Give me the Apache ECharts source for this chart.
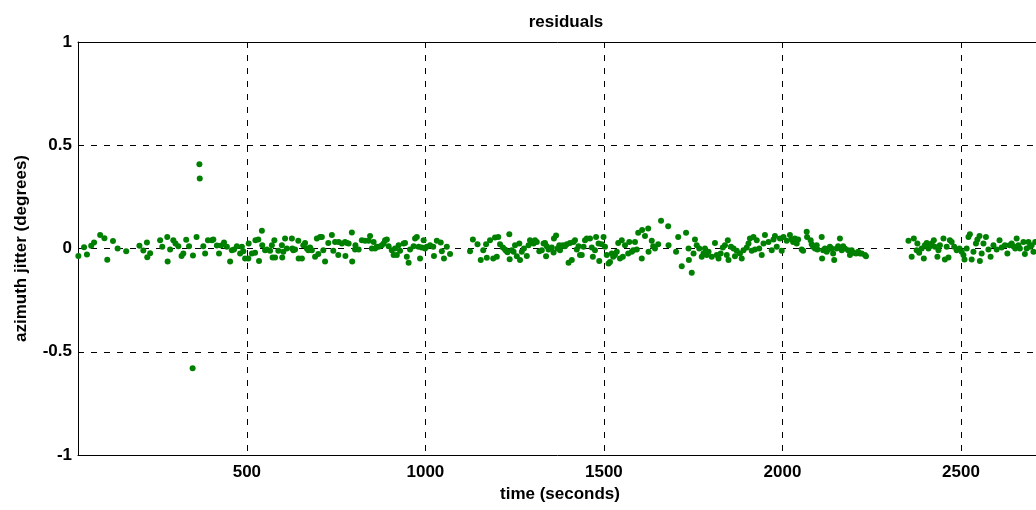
<!DOCTYPE html>
<html>
<head>
<meta charset="utf-8">
<script src="https://cdn.jsdelivr.net/npm/echarts@6/dist/echarts.min.js"></script>
<style>
  html, body { margin: 0; padding: 0; background: #fff; }
  #chart { width: 1036px; height: 510px; }
</style>
</head>
<body>
<div id="chart"></div>
<script>
// Residual azimuth jitter samples: time (s) and jitter (degrees)
const timeSec = [
  28, 44, 52, 64, 72, 89, 101, 109, 125, 138, 162, 199, 210, 220, 221, 229, 257, 263, 277, 278,
  285, 294, 300, 308, 317, 322, 330, 338, 348, 349, 359, 367, 368, 378, 383, 391, 402, 406, 416, 422,
  428, 436, 444, 453, 458, 464, 472, 481,
  486, 490, 495, 504, 505, 514, 523, 524, 532, 534, 542, 543, 551, 556, 565, 570, 572, 577, 579, 588,
  598, 599, 602, 607, 612, 626, 627, 630, 635, 644, 645, 654, 658, 663, 668, 672, 677, 682, 691, 696,
  700, 705, 710, 714, 719, 728, 738, 742, 747, 756, 757, 766, 775, 776, 780, 785, 794, 795, 803, 804,
  813, 822, 831, 841, 845, 850, 855, 859, 864, 869, 878, 883, 887, 892, 897, 906, 911, 915, 920, 925,
  929, 939, 943, 948, 953, 957, 967, 971, 976, 981, 985, 990, 995, 999,
  1004, 1013, 1022, 1024, 1032, 1043, 1046, 1052, 1060, 1069,
  1125, 1133, 1146, 1155, 1162, 1170, 1172, 1181, 1190, 1195, 1200, 1204, 1209, 1217, 1223, 1226, 1230, 1235, 1236, 1242,
  1247, 1251, 1256, 1263, 1265, 1270, 1276, 1284, 1289, 1293, 1298, 1303, 1307, 1312, 1319, 1326, 1331, 1335, 1338, 1340,
  1345, 1354, 1359, 1360, 1366, 1370, 1375, 1377, 1385, 1391, 1396, 1401, 1405, 1410, 1415, 1419, 1424, 1429, 1433, 1438,
  1443, 1447, 1452, 1461, 1466, 1469, 1475, 1478, 1485, 1487, 1494, 1499, 1503, 1508, 1513,
  1517, 1522, 1526, 1531, 1536, 1540, 1545, 1550, 1553, 1559, 1568, 1571, 1578, 1582, 1587, 1592, 1596, 1606, 1607, 1615,
  1624, 1625, 1634, 1638, 1643, 1652, 1660, 1680, 1681, 1702, 1708, 1718, 1730, 1737, 1738, 1746, 1751, 1755, 1760, 1767,
  1774, 1779, 1783, 1788, 1793, 1802, 1811, 1816, 1821, 1827, 1833, 1839, 1844, 1847, 1849, 1856, 1863, 1867, 1872, 1881,
  1886, 1891, 1900, 1905, 1909, 1914, 1919, 1923, 1928, 1935, 1942, 1947, 1951, 1961, 1970, 1975, 1979, 1984, 1993, 1998,
  2003, 2012,
  2021, 2026, 2030, 2035, 2040, 2044, 2054, 2058, 2068, 2069, 2079, 2082, 2086, 2091, 2096, 2098, 2110, 2111, 2114, 2119,
  2124, 2128, 2133, 2138, 2142, 2145, 2152, 2156, 2161, 2166, 2170, 2175, 2184, 2189, 2194, 2198, 2206, 2212, 2217, 2222,
  2231, 2234,
  2353, 2362, 2368, 2376, 2378, 2383, 2390, 2396, 2399, 2404, 2409, 2413, 2418, 2424, 2427, 2434, 2437, 2441, 2451, 2455,
  2460, 2465, 2469, 2474, 2481, 2488, 2496, 2502, 2507, 2510, 2516, 2521, 2525, 2530, 2535, 2542, 2546, 2552, 2553, 2558,
  2563, 2570, 2577, 2583, 2591, 2600, 2608, 2614, 2623, 2630, 2636, 2642, 2647, 2652, 2656, 2661, 2665, 2675, 2679, 2684,
  2689, 2693, 2698, 2703, 2708
];
const jitterDeg = [
  -0.036, 0.006, -0.029, 0.013, 0.029, 0.065, 0.050, -0.055, 0.036, 0.000, -0.013, 0.013, -0.010, 0.029, -0.042, -0.023, 0.040, 0.008, 0.056, -0.063,
  -0.005, 0.040, 0.024, 0.011, -0.036, -0.024, 0.042, 0.011, -0.580, -0.034, 0.056, 0.408, 0.339, 0.011, -0.024, 0.040, 0.040, 0.044, 0.015, -0.024,
  0.015, 0.029, 0.008, -0.063, -0.008, -0.005, 0.011, -0.024,
  0.008, -0.013, -0.048, -0.048, 0.024, -0.024, -0.021, 0.040, 0.044, -0.061, 0.086, 0.016, -0.008, -0.005, -0.011, 0.016, -0.044, 0.040, -0.044, -0.011,
  0.016, -0.044, -0.016, 0.048, 0.000, 0.048, 0.000, -0.008, -0.005, 0.037, -0.048, -0.048, 0.016, 0.027, 0.000, -0.008, 0.005, -0.008, -0.040, 0.048,
  -0.027, 0.056, 0.056, -0.008, -0.063, 0.027, 0.065, -0.011, 0.032, -0.032, 0.032, 0.024, 0.032, -0.036, 0.027, 0.024, 0.077, -0.063, -0.005, 0.016,
  -0.005, 0.040, 0.037, 0.037, 0.061, 0.000, 0.032, 0.000, 0.008, 0.008, 0.016, 0.024, 0.040, 0.044, 0.011, -0.008, -0.032, 0.000, -0.032, 0.016,
  -0.011, 0.024, 0.027, -0.040, -0.069, -0.005, 0.011, 0.048, 0.056, 0.008, -0.048, 0.005, 0.040, 0.000,
  0.008, 0.016, 0.008, -0.036, 0.037, 0.029, -0.013, -0.048, 0.008, -0.027,
  -0.013, 0.044, 0.021, -0.056, -0.008, 0.021, -0.045, 0.040, -0.048, 0.053, -0.040, 0.056, 0.021, 0.005, -0.005, -0.011, -0.018, 0.069, -0.052, -0.008,
  -0.016, 0.016, -0.037, 0.024, -0.056, -0.016, 0.000, -0.036, 0.016, 0.040, 0.032, 0.024, 0.040, 0.032, -0.013, -0.008, 0.024, 0.027, -0.037, 0.011,
  -0.005, 0.005, -0.019, 0.048, 0.063, 0.000, 0.016, -0.008, 0.016, 0.011, 0.021, -0.069, 0.027, -0.056, 0.032, 0.040, -0.005, 0.011, -0.032, -0.032,
  0.008, 0.040, 0.048, 0.048, 0.005, -0.040, -0.008, 0.056, 0.024, -0.061, 0.021, 0.056, 0.008, -0.032, -0.073,
  -0.065, -0.024, -0.040, -0.032, -0.016, 0.027, -0.048, 0.040, -0.040, 0.016, -0.024, 0.032, -0.016, -0.008, 0.032, -0.005, 0.076, -0.048, 0.089, 0.060,
  0.097, -0.016, 0.037, 0.011, 0.000, 0.021, 0.134, 0.108, 0.016, -0.016, 0.056, -0.086, 0.076, 0.000, -0.056, -0.118, -0.024, 0.044, 0.016, 0.000,
  -0.040, -0.024, 0.000, -0.032, -0.016, -0.040, 0.027, -0.032, -0.048, -0.024, 0.005, 0.016, -0.032, 0.040, -0.056, 0.008, 0.000, -0.037, -0.011, -0.024,
  -0.048, -0.008, 0.005, 0.024, 0.048, -0.011, 0.056, -0.005, 0.040, 0.000, -0.032, 0.024, 0.065, 0.032, -0.008, 0.044, 0.060, 0.008, 0.048, -0.011,
  0.056, 0.037,
  0.065, 0.044, 0.032, 0.048, 0.024, 0.044, -0.005, -0.011, 0.081, 0.056, 0.040, 0.021, 0.008, 0.000, 0.016, -0.005, 0.056, -0.048, -0.008, 0.000,
  -0.016, -0.005, 0.008, 0.000, -0.024, -0.056, 0.000, 0.011, 0.048, -0.008, 0.011, 0.000, -0.008, -0.032, -0.008, -0.021, -0.024, -0.016, -0.024, -0.024,
  -0.032, -0.037,
  0.037, -0.040, 0.048, -0.008, 0.024, -0.021, 0.000, -0.048, 0.016, 0.027, 0.000, 0.011, 0.024, 0.040, 0.008, -0.040, -0.008, 0.016, 0.048, -0.053,
  0.008, -0.044, 0.040, 0.032, 0.008, -0.008, 0.000, -0.016, -0.032, -0.053, 0.000, 0.056, 0.069, -0.053, -0.016, 0.024, 0.044, 0.060, -0.060, -0.024,
  0.024, 0.056, -0.005, -0.040, 0.016, -0.005, 0.040, 0.005, 0.016, -0.024, 0.016, 0.024, 0.011, 0.000, 0.048, 0.016, 0.000, 0.032, -0.027, 0.000,
  0.032, 0.008, 0.016, -0.016, 0.032
];
const xTicks = [500, 1000, 1500, 2000, 2500];

const points = timeSec.map((t, i) => [t, jitterDeg[i]]);

const font = { fontFamily: 'Liberation Sans, Arial, sans-serif', fontWeight: 'bold', fontSize: 17, color: '#000' };
const dashed = { show: true, lineStyle: { color: '#000', width: 1, type: [6, 7] } };
const solidLine = { show: true, onZero: false, lineStyle: { color: '#000', width: 1 } };
const plain = v => String(v);

const chart = echarts.init(document.getElementById('chart'), null, { renderer: 'canvas' });
chart.setOption({
  animation: false,
  backgroundColor: '#fff',
  title: {
    text: 'residuals',
    left: 561, top: 9, textAlign: 'center',
    textStyle: Object.assign({}, font)
  },
  grid: {
    left: 78, top: 42, width: 964, height: 413,
    outerBoundsMode: 'none', containLabel: false,
    show: false
  },
  xAxis: [{
    type: 'value', min: 27, max: 2727, position: 'bottom',
    name: 'time (seconds)', nameLocation: 'middle', nameGap: 30,
    nameTextStyle: Object.assign({}, font),
    axisLine: solidLine,
    axisTick: { show: false, customValues: xTicks },
    axisLabel: Object.assign({ customValues: xTicks, margin: 9, formatter: plain }, font),
    splitLine: dashed
  }, {
    // top frame edge
    type: 'value', min: 27, max: 2727, position: 'top',
    axisLine: solidLine, axisTick: { show: false }, axisLabel: { show: false }, splitLine: { show: false }
  }],
  yAxis: [{
    type: 'value', min: -1, max: 1, interval: 0.5, position: 'left',
    name: 'azimuth jitter (degrees)', nameLocation: 'middle', nameGap: 48,
    nameTextStyle: Object.assign({}, font),
    axisLine: solidLine,
    axisTick: { show: false },
    axisLabel: Object.assign({ margin: 6, formatter: plain }, font),
    splitLine: dashed
  }, {
    // right frame edge
    type: 'value', min: -1, max: 1, position: 'right',
    axisLine: solidLine, axisTick: { show: false }, axisLabel: { show: false }, splitLine: { show: false }
  }],
  series: [{
    type: 'scatter',
    data: points,
    symbol: 'circle',
    symbolSize: 6,
    itemStyle: { color: '#008000', opacity: 1 },
    silent: true,
    z: 5
  }]
});
</script>
</body>
</html>
